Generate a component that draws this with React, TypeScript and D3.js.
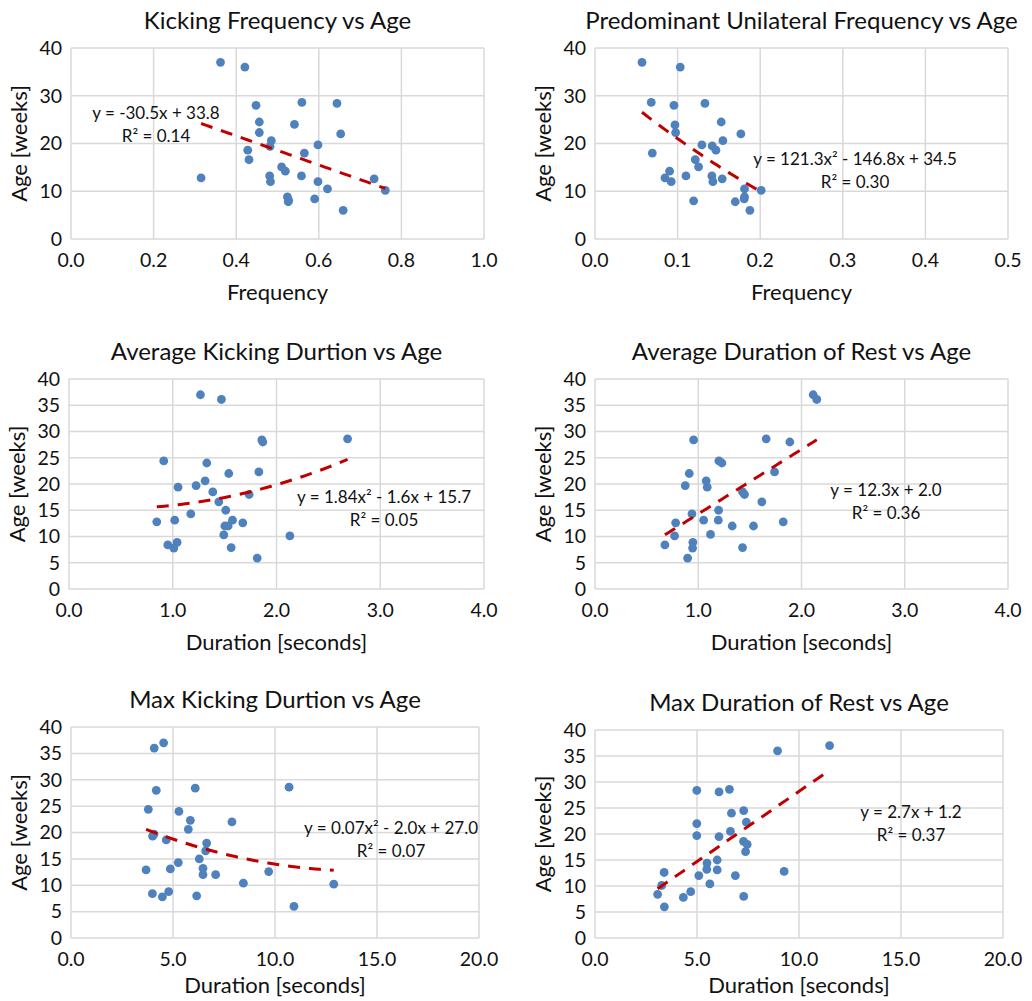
import * as d3 from "d3";

// ---- data ----
const kickFreqX = [0.362, 0.421, 0.448, 0.559, 0.644, 0.456, 0.541, 0.456, 0.653, 0.485, 0.482, 0.598, 0.428, 0.565, 0.431, 0.51, 0.519, 0.315, 0.481, 0.483, 0.558, 0.598, 0.734, 0.621, 0.761, 0.524, 0.526, 0.527, 0.59, 0.659];
const kickFreqY = [37.0, 36.0, 28.0, 28.6, 28.4, 24.5, 24.0, 22.3, 22.0, 20.6, 19.4, 19.7, 18.6, 18.0, 16.6, 15.1, 14.2, 12.8, 13.2, 12.0, 13.2, 12.0, 12.6, 10.5, 10.2, 8.8, 7.8, 8.1, 8.4, 6.0];

const uniFreqX = [0.0569, 0.1032, 0.0681, 0.0956, 0.1331, 0.0968, 0.1528, 0.0976, 0.1766, 0.1294, 0.1419, 0.1464, 0.1548, 0.0694, 0.1214, 0.1254, 0.0903, 0.0847, 0.0923, 0.1101, 0.1415, 0.1427, 0.154, 0.181, 0.2012, 0.181, 0.1806, 0.1194, 0.1698, 0.1875];
const uniFreqY = [37.0, 36.0, 28.6, 28.0, 28.4, 23.9, 24.5, 22.3, 22.0, 19.7, 19.5, 18.6, 20.6, 18.0, 16.6, 15.1, 14.2, 12.8, 12.0, 13.2, 13.2, 12.0, 12.6, 10.5, 10.2, 8.8, 8.4, 8.0, 7.8, 6.0];

const avgKickX = [1.267, 1.469, 2.685, 1.859, 1.868, 0.913, 1.328, 1.54, 1.83, 1.312, 1.051, 1.225, 1.386, 1.736, 1.444, 1.511, 1.174, 0.846, 1.019, 1.576, 1.675, 1.502, 1.534, 2.129, 1.492, 0.952, 1.042, 1.01, 1.563, 1.814];
const avgKickY = [37.0, 36.1, 28.6, 28.4, 28.0, 24.4, 24.0, 22.0, 22.3, 20.6, 19.4, 19.7, 18.5, 18.0, 16.6, 15.0, 14.3, 12.8, 13.1, 13.1, 12.6, 12.0, 12.0, 10.1, 10.3, 8.4, 8.9, 7.8, 7.9, 5.9];

const avgRestX = [2.113, 2.148, 0.955, 1.658, 1.887, 1.2, 1.229, 0.913, 1.739, 1.077, 0.874, 1.087, 1.429, 1.448, 1.616, 1.197, 0.939, 1.823, 0.781, 1.052, 1.194, 1.329, 1.535, 0.771, 1.119, 0.677, 0.948, 0.945, 1.429, 0.897];
const avgRestY = [37.0, 36.1, 28.4, 28.6, 28.0, 24.4, 24.0, 22.0, 22.3, 20.6, 19.7, 19.4, 18.5, 18.0, 16.6, 15.0, 14.3, 12.8, 12.6, 13.1, 13.1, 12.0, 12.0, 10.1, 10.4, 8.4, 8.9, 7.8, 7.9, 5.9];

const maxKickX = [4.54, 4.08, 4.18, 6.09, 10.69, 3.79, 5.29, 5.85, 7.89, 5.75, 4.0, 4.07, 4.67, 6.65, 6.6, 6.29, 5.26, 3.68, 4.87, 6.47, 9.69, 6.47, 7.09, 8.45, 12.88, 3.99, 4.79, 4.48, 6.16, 10.93];
const maxKickY = [37.0, 36.0, 28.0, 28.4, 28.6, 24.4, 24.0, 22.3, 22.0, 20.6, 19.3, 19.7, 18.6, 18.0, 16.5, 15.0, 14.3, 12.9, 13.1, 13.2, 12.6, 12.0, 12.0, 10.4, 10.2, 8.4, 8.8, 7.8, 8.0, 6.0];

const maxRestX = [11.5, 8.95, 4.99, 6.08, 6.59, 7.29, 6.69, 4.99, 7.42, 6.64, 4.99, 6.08, 7.28, 7.46, 7.38, 5.49, 5.99, 5.48, 5.99, 9.27, 3.39, 5.09, 6.88, 3.27, 5.63, 3.07, 4.69, 4.33, 7.29, 3.4];
const maxRestY = [37.0, 36.0, 28.4, 28.1, 28.6, 24.5, 24.0, 22.0, 22.3, 20.5, 19.7, 19.5, 18.6, 18.0, 16.6, 14.4, 15.0, 13.2, 13.1, 12.8, 12.6, 12.0, 12.0, 10.1, 10.4, 8.4, 8.9, 7.8, 8.0, 6.0];

const titles = [
  "Kicking Frequency vs Age",
  "Predominant Unilateral Frequency vs Age",
  "Average Kicking Durtion vs Age",
  "Average Duration of Rest vs Age",
  "Max Kicking Durtion vs Age",
  "Max Duration of Rest vs Age",
];
const xTitles = ["Frequency", "Frequency", "Duration [seconds]", "Duration [seconds]", "Duration [seconds]", "Duration [seconds]"];
const xMax = [1.0, 0.5, 4.0, 4.0, 20.0, 20.0];
const xStep = [0.2, 0.1, 1.0, 1.0, 5.0, 5.0];
const yStep = [10, 10, 5, 5, 5, 5];
// trendline coefficients [a, b, c] for y = a x^2 + b x + c
const fits = [
  [0, -30.5, 33.8],
  [121.3, -146.8, 34.5],
  [1.84, -1.6, 15.7],
  [0, 12.3, 2.0],
  [0.07, -2.0, 27.0],
  [0, 2.7, 1.2],
];
const eqLabels = [
  ["y = -30.5x + 33.8", "R² = 0.14"],
  ["y = 121.3x² - 146.8x + 34.5", "R² = 0.30"],
  ["y = 1.84x² - 1.6x + 15.7", "R² = 0.05"],
  ["y = 12.3x + 2.0", "R² = 0.36"],
  ["y = 0.07x² - 2.0x + 27.0", "R² = 0.07"],
  ["y = 2.7x + 1.2", "R² = 0.37"],
];
const xsList = [kickFreqX, uniFreqX, avgKickX, avgRestX, maxKickX, maxRestX];
const ysList = [kickFreqY, uniFreqY, avgKickY, avgRestY, maxKickY, maxRestY];

// plot rectangles, label anchors and x-title offset (pixels)
const boxes = [
  { l: 71, r: 484, t: 48, b: 239, ex: 156, ey: 113, xt: 53 },
  { l: 595, r: 1008, t: 48, b: 239, ex: 855, ey: 159, xt: 53 },
  { l: 69, r: 484, t: 379, b: 589, ex: 384, ey: 497, xt: 53 },
  { l: 595, r: 1008, t: 379, b: 589, ex: 886, ey: 490, xt: 53 },
  { l: 71, r: 479, t: 727, b: 938, ex: 391, ey: 828, xt: 47 },
  { l: 595, r: 1003, t: 730, b: 938, ex: 911, ey: 812, xt: 47 },
];

const FONT = "Lato, 'Open Sans', sans-serif";
const GRID = "#d9d9d9";
const DOT = "#4f81bd";
const TREND = "#c00000";
const INK = "#111";

function Panel({ i }: { i: number }) {
  const bx = boxes[i];
  const x = d3.scaleLinear().domain([0, xMax[i]]).range([bx.l, bx.r]);
  const y = d3.scaleLinear().domain([0, 40]).range([bx.b, bx.t]);
  const xTicks = d3.range(0, xMax[i] + xStep[i] / 2, xStep[i]);
  const yTicks = d3.range(0, 40 + yStep[i] / 2, yStep[i]);
  const xs = xsList[i];
  const ys = ysList[i];
  const [a, b, c] = fits[i];
  const lo = d3.min(xs) as number;
  const hi = d3.max(xs) as number;
  const trendPts = d3.range(0, 41).map((k) => {
    const xv = lo + ((hi - lo) * k) / 40;
    return [xv, a * xv * xv + b * xv + c] as [number, number];
  });
  const line = d3
    .line<[number, number]>()
    .x((d) => x(d[0]))
    .y((d) => y(d[1]));
  const cx = (bx.l + bx.r) / 2;
  const cy = (bx.t + bx.b) / 2;

  return (
    <g>
      {yTicks.map((t) => (
        <line key={"gy" + t} x1={bx.l} x2={bx.r} y1={y(t)} y2={y(t)} stroke={GRID} strokeWidth={1.5} />
      ))}
      {xTicks.map((t) => (
        <line key={"gx" + t} x1={x(t)} x2={x(t)} y1={bx.t} y2={bx.b} stroke={GRID} strokeWidth={1.5} />
      ))}
      {yTicks.map((t) => (
        <text key={"ty" + t} x={bx.l - 9} y={y(t)} dy="0.35em" textAnchor="end" fontSize={19.5} fill={INK}>
          {t}
        </text>
      ))}
      {xTicks.map((t) => (
        <text key={"tx" + t} x={x(t)} y={bx.b + 21} dy="0.35em" textAnchor="middle" fontSize={19.5} fill={INK}>
          {d3.format(".1f")(t)}
        </text>
      ))}
      {xs.map((xv, k) => (
        <circle key={"p" + k} cx={x(xv)} cy={y(ys[k])} r={4.4} fill={DOT} />
      ))}
      <path d={line(trendPts) || ""} fill="none" stroke={TREND} strokeWidth={3} strokeDasharray="12 9" />
      <text x={cx} y={bx.t - 27} dy="0.35em" textAnchor="middle" fontSize={24} fill={INK}>
        {titles[i]}
      </text>
      <text x={cx} y={bx.b + bx.xt} dy="0.35em" textAnchor="middle" fontSize={22} fill={INK}>
        {xTitles[i]}
      </text>
      <text
        transform={`translate(${bx.l - 52},${cy}) rotate(-90)`}
        dy="0.35em"
        textAnchor="middle"
        fontSize={22}
        fill={INK}
      >
        Age [weeks]
      </text>
      <text x={bx.ex} y={bx.ey} dy="0.35em" textAnchor="middle" fontSize={17} fill={INK}>
        {eqLabels[i][0]}
      </text>
      <text x={bx.ex} y={bx.ey + 23} dy="0.35em" textAnchor="middle" fontSize={17} fill={INK}>
        {eqLabels[i][1]}
      </text>
    </g>
  );
}

export default function App() {
  return (
    <svg
      width={1032}
      height={1001}
      style={{ position: "absolute", left: 0, top: 0, background: "#fff" }}
      fontFamily={FONT}
    >
      <rect width={1032} height={1001} fill="#fff" />
      {titles.map((_, i) => (
        <Panel key={i} i={i} />
      ))}
    </svg>
  );
}
